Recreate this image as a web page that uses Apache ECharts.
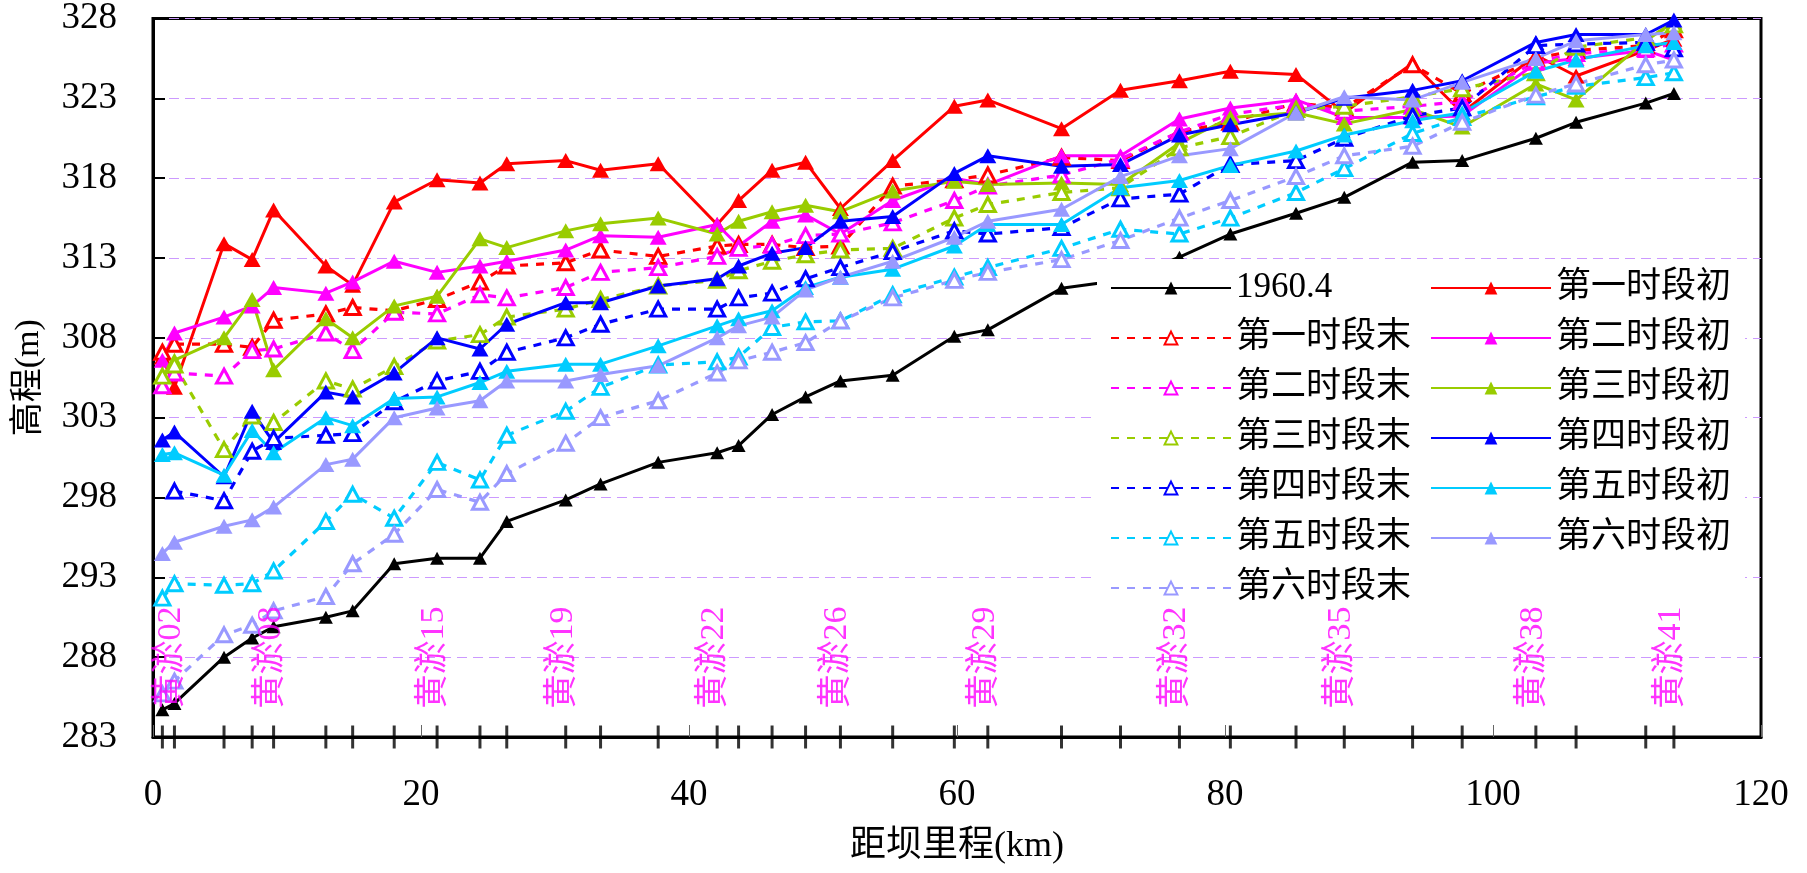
<!DOCTYPE html>
<html><head><meta charset="utf-8">
<script src="https://cdn.jsdelivr.net/npm/echarts@6/dist/echarts.min.js"></script>
<style>html,body{margin:0;padding:0;background:#fff}#c{width:1807px;height:873px}</style>
</head><body><div id="c"></div>
<script>
// ---- data ----
const sectionKm = [0.7, 1.6, 5.3, 7.4, 9.0, 12.9, 14.9, 18.0, 21.2, 24.4, 26.4, 30.8, 33.4, 37.7, 42.1, 43.7, 46.2, 48.7, 51.3, 55.2, 59.8, 62.3, 67.8, 72.2, 76.6, 80.4, 85.3, 88.9, 94.0, 97.7, 103.2, 106.2, 111.4, 113.5];

const markLabels = ['黄淤02','黄淤08','黄淤15','黄淤19','黄淤22','黄淤26','黄淤29','黄淤32','黄淤35','黄淤38','黄淤41'];
const markKm = [1.6, 9.0, 21.2, 30.8, 42.1, 51.3, 62.3, 76.6, 88.9, 103.2, 113.5];

const xMin = 0, xMax = 120, xStep = 20;
const yMin = 283, yMax = 328, yStep = 5;

const seriesNames = ['1960.4','第一时段初','第一时段末','第二时段初','第二时段末','第三时段初','第三时段末','第四时段初','第四时段末','第五时段初','第五时段末','第六时段初','第六时段末'];

const y1960 = [284.7, 285.1, 288.0, 289.2, 289.9, 290.5, 290.9, 293.85, 294.2, 294.2, 296.5, 297.85, 298.85, 300.2, 300.8, 301.25, 303.2, 304.3, 305.3, 305.65, 308.1, 308.5, 311.1, 311.6, 313.05, 314.5, 315.8, 316.8, 319.0, 319.1, 320.5, 321.5, 322.7, 323.3];
const p1Begin = [306.8, 304.9, 313.9, 312.9, 316.0, 312.5, 311.3, 316.5, 317.9, 317.7, 318.9, 319.1, 318.5, 318.9, 315.1, 316.6, 318.5, 319.0, 316.1, 319.1, 322.5, 322.9, 321.1, 323.5, 324.1, 324.7, 324.5, 322.1, 325.2, 322.1, 325.7, 324.4, 326.0, 326.7];
const p1End = [307.1, 307.6, 307.6, 307.4, 309.1, 309.5, 309.9, 309.7, 310.4, 311.5, 312.5, 312.7, 313.5, 313.1, 313.75, 313.85, 313.85, 313.65, 313.75, 317.5, 317.9, 318.2, 319.3, 319.1, 320.9, 321.5, 322.7, 322.4, 325.1, 323.3, 325.5, 326.0, 326.3, 327.3];
const p2Begin = [306.6, 308.3, 309.3, 310.0, 311.15, 310.8, 311.5, 312.8, 312.1, 312.5, 312.8, 313.5, 314.4, 314.3, 315.1, 313.75, 315.3, 315.7, 314.5, 316.6, 318.0, 317.6, 319.4, 319.4, 321.7, 322.4, 322.9, 321.8, 321.8, 321.9, 325.2, 325.5, 326.0, 325.4];
const p2End = [305.0, 305.8, 305.6, 307.2, 307.3, 308.3, 307.2, 309.6, 309.5, 310.7, 310.5, 311.15, 312.1, 312.4, 313.1, 313.6, 313.8, 314.4, 314.5, 315.2, 316.6, 317.5, 318.2, 319.2, 320.9, 322.0, 322.6, 322.2, 322.5, 322.8, 325.3, 325.8, 326.1, 326.4];
const p3Begin = [305.6, 306.6, 308.0, 310.4, 306.0, 309.2, 308.0, 310.0, 310.6, 314.2, 313.65, 314.7, 315.15, 315.5, 314.5, 315.3, 315.9, 316.3, 315.9, 317.2, 317.8, 317.6, 317.7, 317.6, 320.2, 321.8, 322.1, 321.4, 322.3, 321.2, 323.9, 322.9, 326.6, 327.8];
const p3End = [305.6, 306.3, 301.0, 303.1, 302.7, 305.3, 304.8, 306.2, 307.8, 308.2, 309.3, 309.8, 310.4, 311.25, 311.6, 312.2, 312.8, 313.2, 313.5, 313.6, 315.5, 316.35, 317.1, 317.4, 319.9, 320.6, 322.3, 322.5, 323.1, 323.6, 324.6, 326.2, 326.8, 327.6];
const p4Begin = [301.6, 302.1, 299.3, 303.4, 301.45, 304.6, 304.3, 305.8, 308.0, 307.3, 308.85, 310.2, 310.2, 311.25, 311.7, 312.5, 313.3, 313.65, 315.3, 315.6, 318.3, 319.4, 318.75, 318.85, 320.7, 321.35, 322.1, 323.0, 323.5, 324.1, 326.5, 327.0, 327.0, 327.9];
const p4End = [null, 298.4, 297.8, 300.9, 301.7, 301.9, 302.0, 304.0, 305.3, 305.9, 307.1, 308.0, 308.85, 309.8, 309.8, 310.5, 310.8, 311.7, 312.4, 313.4, 314.7, 314.5, 314.9, 316.7, 317.0, 318.85, 319.1, 320.5, 321.9, 322.4, 326.3, 326.4, 326.5, 326.1];
const p5Begin = [300.7, 300.8, 299.4, 302.2, 300.8, 303.0, 302.5, 304.2, 304.3, 305.2, 305.9, 306.35, 306.35, 307.5, 308.75, 309.2, 309.7, 311.15, 311.8, 312.3, 313.75, 315.1, 315.1, 317.4, 317.85, 318.8, 319.7, 320.7, 321.6, 322.1, 324.7, 325.4, 326.3, 326.5];
const p5End = [291.7, 292.6, 292.5, 292.6, 293.4, 296.5, 298.2, 296.7, 300.2, 299.1, 301.9, 303.4, 304.9, 306.3, 306.5, 306.8, 308.65, 309.0, 309.06, 310.7, 311.8, 312.4, 313.6, 314.8, 314.5, 315.5, 317.1, 318.6, 320.8, 321.8, 323.1, 323.75, 324.3, 324.6];
const p6Begin = [294.5, 295.2, 296.2, 296.6, 297.4, 300.06, 300.4, 303.0, 303.6, 304.06, 305.3, 305.3, 305.7, 306.25, 308.0, 308.75, 309.3, 311.0, 311.8, 312.8, 314.3, 315.3, 316.05, 318.1, 319.4, 319.85, 322.1, 323.1, 322.9, 324.0, 325.5, 326.6, 327.0, 327.1];
const p6End = [285.7, 286.5, 289.4, 290.0, 290.9, 291.8, 293.85, 295.7, 298.5, 297.7, 299.5, 301.4, 303.0, 304.06, 305.8, 306.56, 307.1, 307.7, 309.06, 310.5, 311.6, 312.1, 312.9, 314.1, 315.5, 316.6, 318.1, 319.4, 320.0, 321.5, 323.2, 323.9, 325.1, 325.4];

const seriesValues = [y1960, p1Begin, p1End, p2Begin, p2End, p3Begin, p3End, p4Begin, p4End, p5Begin, p5End, p6Begin, p6End];

// ---- styles ----
const seriesColors = ['#000000','#FF0000','#FF0000','#FF00FF','#FF00FF','#99CC00','#99CC00','#0000FF','#0000FF','#00CCFF','#00CCFF','#9999FF','#9999FF'];
const FONT = "'Liberation Serif','Noto Sans CJK SC',serif";

function makeLine(i) {
  const name = seriesNames[i];
  const color = seriesColors[i];
  const hollow = name.endsWith('末');
  const black = i === 0;
  const pts = [];
  seriesValues[i].forEach((v, j) => { if (v !== null) pts.push([sectionKm[j], v]); });
  return {
    name: name, type: 'line', data: pts,
    symbol: 'triangle',
    symbolSize: black ? [14, 13] : (hollow ? [15, 14] : [17, 15]),
    showAllSymbol: true,
    lineStyle: { color: color, width: hollow ? 3.2 : 3, type: hollow ? [8, 8] : 'solid' },
    itemStyle: hollow ? { color: '#ffffff', borderColor: color, borderWidth: 3 } : { color: color },
    clip: false, animation: false, emphasis: { disabled: true },
    z: 2
  };
}

const series = seriesNames.map((n, i) => makeLine(i));

// section ticks crossing the x axis
series.push({
  type: 'scatter', name: '断面', data: sectionKm.map(k => [k, yMin]),
  symbol: 'rect', symbolSize: [3, 23], itemStyle: { color: '#000' },
  clip: false, silent: true, animation: false, z: 6
});
// section name labels
series.push({
  type: 'scatter', name: '断面名', silent: true, animation: false, clip: false, z: 6,
  data: markLabels.map((t, i) => ({ name: t, value: [markKm[i], yMin] })),
  symbolSize: 1, itemStyle: { color: 'rgba(0,0,0,0)' },
  label: { show: true, formatter: '{b}', rotate: 90, position: [-2.5, -28], align: 'left', verticalAlign: 'middle',
           color: '#FF00FF', fontSize: 34, fontFamily: FONT }
});

const colA = seriesNames.filter((n, i) => i === 0 || n.endsWith('末'));
const colB = seriesNames.filter((n, i) => n.endsWith('初'));
const legendBase = {
  orient: 'vertical', top: 268, padding: 0, itemWidth: 120, itemHeight: 16, itemGap: 10,
  textStyle: { fontSize: 35, lineHeight: 40, fontFamily: FONT, color: '#000' },
  selectedMode: false, z: 5
};

const option = {
  backgroundColor: '#fff',
  animation: false,
  grid: { left: 153, right: 46, top: 17, bottom: 136, show: true, borderColor: '#000', borderWidth: 3, containLabel: false },
  xAxis: {
    type: 'value', min: xMin, max: xMax, interval: xStep,
    name: '距坝里程(km)', nameLocation: 'middle', nameGap: 92,
    nameTextStyle: { fontSize: 36, fontFamily: FONT, color: '#000' },
    axisLine: { lineStyle: { color: '#000', width: 3 } },
    axisTick: { inside: true, length: 12, lineStyle: { color: '#666', width: 1 } },
    axisLabel: { fontSize: 37, fontFamily: FONT, color: '#000', margin: 40 },
    splitLine: { show: false }
  },
  yAxis: {
    type: 'value', min: yMin, max: yMax, interval: yStep,
    name: '高程(m)', nameLocation: 'middle', nameGap: 107,
    nameTextStyle: { fontSize: 34, fontFamily: FONT, color: '#000' },
    axisLine: { show: true, lineStyle: { color: '#000', width: 3 } },
    axisTick: { show: true, inside: true, length: 12, lineStyle: { color: '#000', width: 2 } },
    axisLabel: { fontSize: 37, fontFamily: FONT, color: '#000', margin: 36 },
    splitLine: { show: true, lineStyle: { color: '#CC99FF', type: [10, 6], width: 1 } }
  },
  legend: [
    Object.assign({}, legendBase, { data: colA, left: 1110 }),
    Object.assign({}, legendBase, { data: colB, left: 1430 })
  ],
  graphic: [
    { type: 'rect', left: 1097, top: 259, shape: { width: 648, height: 353 }, style: { fill: '#fff' }, z: 3, silent: true }
  ],
  series: series
};

const chart = echarts.init(document.getElementById('c'), null, { renderer: 'canvas' });
chart.setOption(option);
</script>
</body></html>
